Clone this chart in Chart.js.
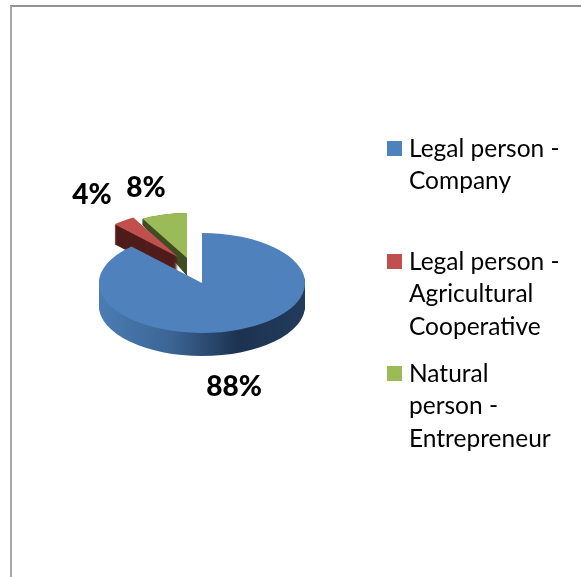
<!DOCTYPE html>
<html>
<head>
<meta charset="utf-8">
<title>Pie chart</title>
<script src="https://cdn.jsdelivr.net/npm/chart.js@4"></script>
<style>
  html, body { margin: 0; padding: 0; background: #fff; overflow: hidden; }
  #wrap { position: relative; width: 581px; height: 577px; overflow: hidden; }
  #frame {
    position: absolute; left: 10px; top: 5px; width: 600px; height: 600px;
    border-top: 2px solid #929292; border-left: 2px solid #a6a6a6;
  }
  #pie { position: absolute; left: 0; top: 0; }
  .legend-item {
    position: absolute; left: 409px; width: 156px;
    font: 24.5px/32.5px Lato, sans-serif; color: #000;
  }
  .legend-box { position: absolute; left: 387px; width: 15px; height: 15px; }
</style>
</head>
<body>
<div id="wrap">
  <div id="frame"></div>
  <canvas id="pie" width="581" height="577"></canvas>
</div>
<script>
'use strict';

var categories = ['Legal person - Company', 'Legal person - Agricultural Cooperative', 'Natural person - Entrepreneur'];
var shares = [88, 4, 8];
var sliceColors = ['#4f81bd', '#c0504d', '#9bbb59'];
var wallColors = [null, '#4f1d1b', '#3f4e22'];

(function () {

  var flatten = 0.485;
  var explode = [[0, 0], [-24, -26], [-15, -25]];
  var sliceScale = [1, 0.9, 0.9];
  var depth = [23, 20, 18];
  var wallStretch = [1, 1, 1.3];
  var labelShift = [[32, 104], [-110, -88], [-56, -95]];
  var legendTops = [131.5, 244.5, 356.5];
  var boxTops = [141, 254, 366];

  // the library lays out the arcs, this only tilts them and gives them a side
  var tiltedPie = {
    id: 'tiltedPie',

    beforeDatasetDraw: function (chart) {
      var ctx = chart.ctx;
      var arcs = chart.getDatasetMeta(0).data;

      // back slices first so the big one covers their walls
      [2, 1, 0].forEach(function (i) {
        var arc = arcs[i];
        var ax = arc.x + explode[i][0];
        var ay = arc.y + explode[i][1];
        var r = arc.outerRadius * sliceScale[i];

        var fill = wallColors[i];
        if (!fill) {
          fill = ctx.createLinearGradient(ax - r, 0, ax + r, 0);
          fill.addColorStop(0, '#4a7cb4');
          fill.addColorStop(0.35, '#3c6595');
          fill.addColorStop(0.68, '#1c3250');
          fill.addColorStop(1, '#233c5c');
        }

        ctx.save();
        ctx.fillStyle = fill;
        for (var d = depth[i]; d > 0; d--) {
          var stretch = 1 + (wallStretch[i] - 1) * d / depth[i];
          ctx.beginPath();
          ctx.moveTo(ax, ay + d);
          ctx.ellipse(ax, ay + d, r, r * flatten * stretch, 0, arc.startAngle, arc.endAngle);
          ctx.closePath();
          ctx.fill();
        }
        ctx.restore();

        ctx.save();
        ctx.translate(ax, ay);
        ctx.scale(sliceScale[i], sliceScale[i] * flatten);
        ctx.translate(-arc.x, -arc.y);
        arc.draw(ctx);
        ctx.restore();
      });

      return false;
    },

    afterDatasetsDraw: function (chart) {
      var ctx = chart.ctx;
      var arcs = chart.getDatasetMeta(0).data;

      ctx.save();
      ctx.font = '900 28px Lato, sans-serif';
      ctx.fillStyle = '#000';
      ctx.textAlign = 'center';
      ctx.textBaseline = 'middle';
      for (var i = 0; i < arcs.length; i++) {
        ctx.fillText(shares[i] + '%', arcs[i].x + labelShift[i][0], arcs[i].y + labelShift[i][1]);
      }
      ctx.restore();
    }
  };

  new Chart(document.getElementById('pie'), {
    type: 'pie',
    plugins: [tiltedPie],
    data: {
      labels: categories,
      datasets: [{
        data: shares,
        backgroundColor: sliceColors,
        borderWidth: 0
      }]
    },
    options: {
      responsive: false,
      animation: false,
      layout: { padding: { left: 99, right: 276, top: 180, bottom: 191 } },
      plugins: { legend: { display: false }, tooltip: { enabled: false } }
    }
  });

  var wrap = document.getElementById('wrap');

  for (var i = 0; i < categories.length; i++) {
    var box = document.createElement('div');
    box.className = 'legend-box';
    box.style.top = boxTops[i] + 'px';
    box.style.background = sliceColors[i];
    wrap.appendChild(box);

    var item = document.createElement('div');
    item.className = 'legend-item';
    item.style.top = legendTops[i] + 'px';
    item.textContent = categories[i];
    wrap.appendChild(item);
  }

})();
</script>
</body>
</html>
